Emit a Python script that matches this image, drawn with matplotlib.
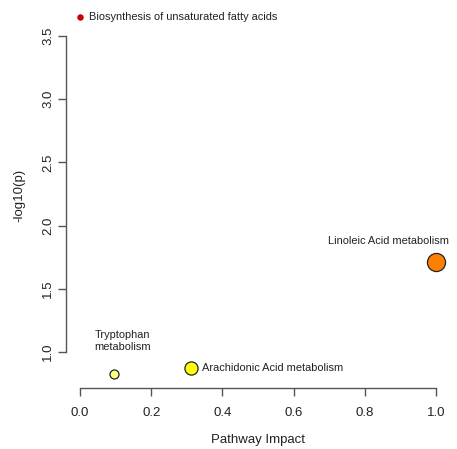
import matplotlib
matplotlib.use("Agg")
import matplotlib.pyplot as plt

plt.rcParams["font.family"] = ["Liberation Sans", "DejaVu Sans"]

# pathway data
names = ["Biosynthesis of unsaturated fatty acids", "Linoleic Acid metabolism",
	"Arachidonic Acid metabolism", "Tryptophan\nmetabolism"]
impact = [0.0, 1.0, 0.312, 0.095]
logp = [3.65, 1.71, 0.873, 0.826]
colors = ["#c80000", "#ff8000", "#ffff00", "#ffff80"]
sizes = [14, 170, 90, 42]

xticks = [0.0, 0.2, 0.4, 0.6, 0.8, 1.0]
yticks = [1.0, 1.5, 2.0, 2.5, 3.0, 3.5]

fig = plt.figure(figsize=(4.57, 4.49), dpi=100)
ax = fig.add_axes([0.144, 0.135, 0.841, 0.859])

for i in range(len(names)):
	ec = colors[i] if i == 0 else "#222222"
	ax.scatter(impact[i], logp[i], s=sizes[i], c=colors[i], edgecolors=ec,
		linewidths=0.9, zorder=3)

tc = "#222222"
fs = 7.9
ax.text(impact[0] + 0.025, logp[0], names[0], fontsize=fs, ha="left", va="center", color=tc)
ax.text(impact[1] - 0.133, logp[1] + 0.17, names[1], fontsize=fs, ha="center", va="center", color=tc)
ax.text(impact[2] + 0.03, logp[2], names[2], fontsize=fs, ha="left", va="center", color=tc)
ax.text(impact[3] + 0.025, logp[3] + 0.26, names[3], fontsize=fs, ha="center", va="center",
	color=tc, linespacing=1.2)

ax.set_xlim(-0.04, 1.04)
ax.set_ylim(0.713, 3.763)
ax.set_xticks(xticks)
ax.set_xticklabels(["%.1f" % v for v in xticks])
ax.set_yticks(yticks)
ax.set_yticklabels(["%.1f" % v for v in yticks], rotation=90, va="center")

for s in ["top", "right"]:
	ax.spines[s].set_visible(False)
ax.spines["left"].set_bounds(1.0, 3.5)
ax.spines["bottom"].set_bounds(0.0, 1.0)
for s in ["left", "bottom"]:
	ax.spines[s].set_color("#555555")
	ax.spines[s].set_linewidth(1.0)
ax.tick_params(direction="out", length=5.5, width=1.0, color="#555555",
	labelsize=9.5, labelcolor=tc)
ax.tick_params(axis="x", pad=8)
ax.tick_params(axis="y", pad=3)

ax.set_xlabel("Pathway Impact", fontsize=9.5, color=tc, labelpad=11)
ax.set_ylabel("-log10(p)", fontsize=9.5, color=tc, labelpad=12)

fig.savefig("out.png", dpi=100)
